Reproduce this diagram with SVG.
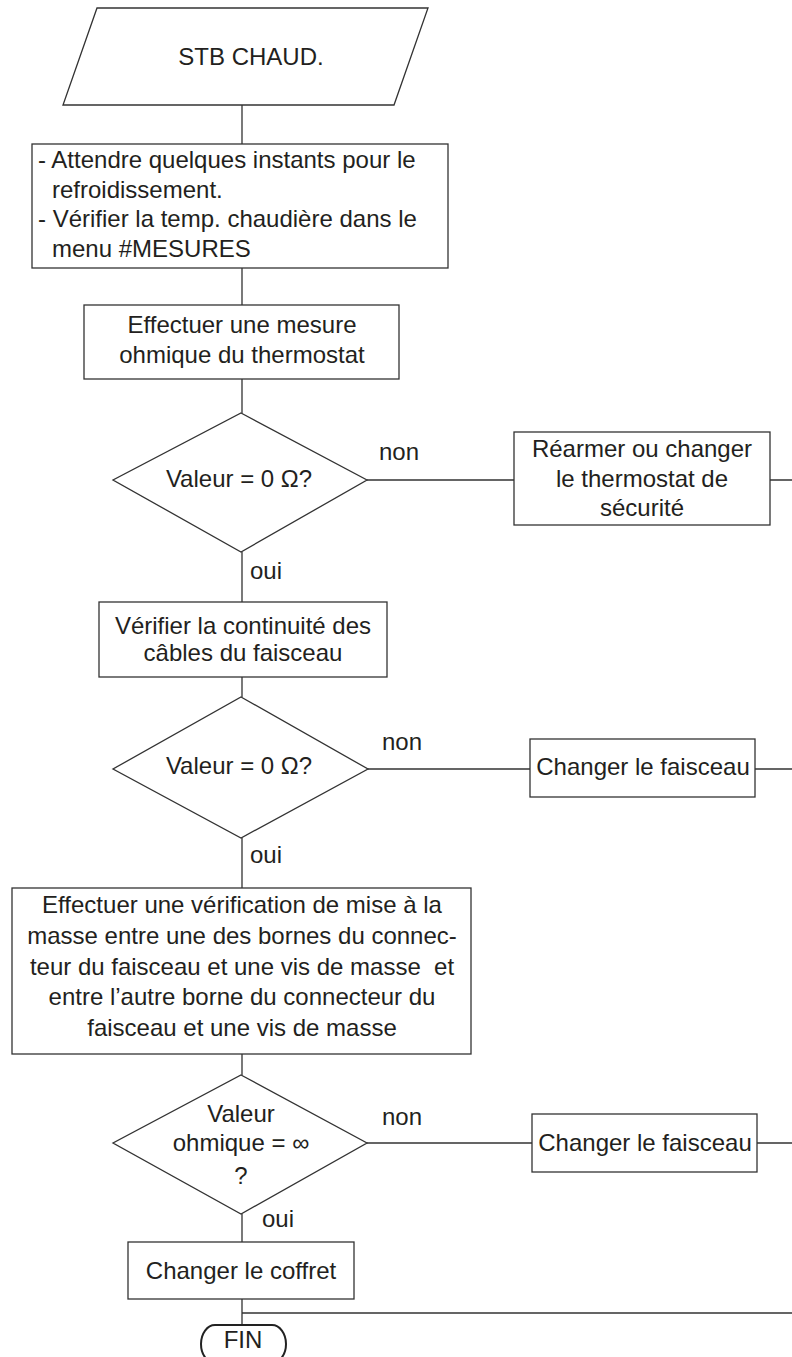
<svg xmlns="http://www.w3.org/2000/svg" width="792" height="1357" viewBox="0 0 792 1357">
<style>
.s{fill:#fff;stroke:#333;stroke-width:1.3}
.c{fill:none;stroke:#333;stroke-width:1.3}
text{font-family:"Liberation Sans",Arial,sans-serif;font-size:24px;fill:#231f20}
.m{text-anchor:middle}
</style>
<rect width="792" height="1357" fill="#fff"/>
<g id="connectors">
<path class="c" d="M242,105V144 M242,268V305 M242,379V413 M367,480H514 M770,480H792 M242,552V602 M242,677V697 M368,769H530 M755,769H792 M242,838V888 M242,1054V1075 M367,1143H532 M757,1143H792 M242,1214V1242 M242,1299V1325 M242,1313H792"/>
<text x="379" y="460">non</text>
<text x="250" y="579">oui</text>
<text x="382" y="750">non</text>
<text x="250" y="863">oui</text>
<text x="382" y="1125">non</text>
<text x="262" y="1227">oui</text>
</g>
<g id="start">
<polygon class="s" points="97,8 428,8 394,105 63,105"/>
<text class="m" x="251" y="65">STB CHAUD.</text>
</g>
<g id="wait">
<rect class="s" x="32" y="144" width="416" height="124"/>
<text x="38" y="168">- Attendre quelques instants pour le</text>
<text x="52" y="198">refroidissement.</text>
<text x="38" y="227">- Vérifier la temp. chaudière dans le</text>
<text x="52" y="257">menu #MESURES</text>
</g>
<g id="measure">
<rect class="s" x="84" y="305" width="315" height="74"/>
<text class="m" x="242" y="333">Effectuer une mesure</text>
<text class="m" x="242" y="363">ohmique du thermostat</text>
</g>
<g id="dec1">
<polygon class="s" points="241,413 367,480 241,552 113,480"/>
<text class="m" x="239" y="487">Valeur = 0 Ω?</text>
</g>
<g id="rearm">
<rect class="s" x="514" y="432" width="256" height="93"/>
<text class="m" x="642" y="457">Réarmer ou changer</text>
<text class="m" x="642" y="487">le thermostat de</text>
<text class="m" x="642" y="516">sécurité</text>
</g>
<g id="cont">
<rect class="s" x="99" y="602" width="288" height="75"/>
<text class="m" x="243" y="634">Vérifier la continuité des</text>
<text class="m" x="243" y="661">câbles du faisceau</text>
</g>
<g id="dec2">
<polygon class="s" points="241,697 368,769 241,838 113,769"/>
<text class="m" x="239" y="774">Valeur = 0 Ω?</text>
</g>
<g id="harness1">
<rect class="s" x="530" y="739" width="225" height="58"/>
<text class="m" x="643" y="775">Changer le faisceau</text>
</g>
<g id="ground">
<rect class="s" x="12" y="888" width="459" height="166"/>
<text class="m" x="242" y="913">Effectuer une vérification de mise à la</text>
<text class="m" x="242" y="944">masse entre une des bornes du connec-</text>
<text class="m" x="242" y="975" xml:space="preserve">teur du faisceau et une vis de masse  et</text>
<text class="m" x="242" y="1005">entre l’autre borne du connecteur du</text>
<text class="m" x="242" y="1036">faisceau et une vis de masse</text>
</g>
<g id="dec3">
<polygon class="s" points="241,1075 367,1143 241,1214 113,1143"/>
<text class="m" x="241" y="1122">Valeur</text>
<text class="m" x="241" y="1151">ohmique = ∞</text>
<text class="m" x="241" y="1184">?</text>
</g>
<g id="harness2">
<rect class="s" x="532" y="1114" width="225" height="58"/>
<text class="m" x="645" y="1151">Changer le faisceau</text>
</g>
<g id="box">
<rect class="s" x="128" y="1242" width="226" height="57"/>
<text class="m" x="241" y="1279">Changer le coffret</text>
</g>
<g id="end">
<rect x="201" y="1325" width="85" height="38" rx="14" ry="19" fill="#fff" stroke="#222" stroke-width="2"/>
<text class="m" x="243" y="1348">FIN</text>
</g>
</svg>
